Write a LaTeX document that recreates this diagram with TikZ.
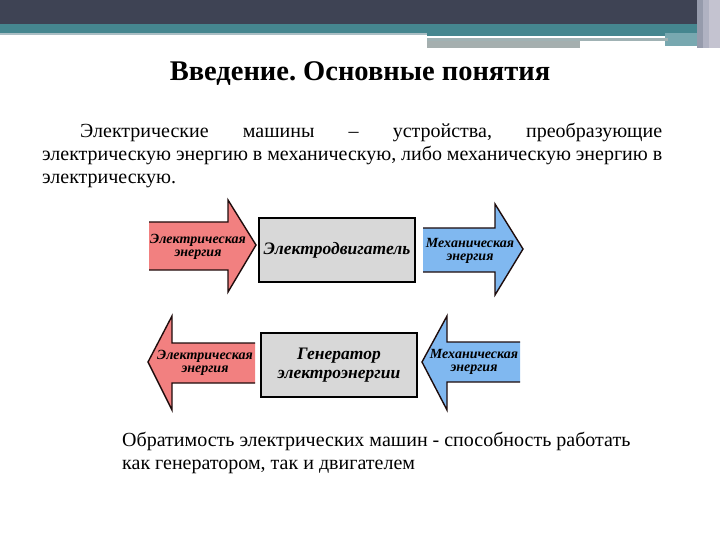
\documentclass[tikz,border=0pt]{standalone}
\usepackage{fontspec}
\setmainfont{Liberation Serif}
\frenchspacing
\definecolor{hdrdark}{RGB}{62,67,84}
\definecolor{hdrteal}{RGB}{69,134,143}
\definecolor{hdrlight}{RGB}{170,190,196}
\definecolor{hdrgray}{RGB}{160,178,180}
\definecolor{hdrgray2}{RGB}{165,175,175}
\definecolor{hdrlteal}{RGB}{120,168,176}
\definecolor{stripeA}{RGB}{150,155,172}
\definecolor{stripeB}{RGB}{176,178,194}
\definecolor{stripeC}{RGB}{196,195,208}
\definecolor{arrred}{RGB}{242,128,128}
\definecolor{arrblue}{RGB}{128,184,240}
\definecolor{boxgray}{RGB}{216,216,216}
\definecolor{outl}{RGB}{30,12,12}
\tikzset{
  arroutline/.style={draw=outl, line width=1.4pt, line join=miter},
  arrtext/.style={font=\bfseries\itshape\fontsize{14}{13}\selectfont, align=center, inner sep=0pt},
  machbox/.style={draw=black, fill=boxgray, line width=1.6pt, minimum width=156pt, minimum height=64pt, font=\bfseries\itshape\fontsize{17.5}{19}\selectfont, align=center},
  bodytext/.style={font=\fontsize{20}{23}\selectfont, inner sep=0pt, anchor=base west}
}
\begin{document}
\begin{tikzpicture}[x=1pt,y=-1pt]
\useasboundingbox (0,0) rectangle (720,540);
% header band
\fill[hdrdark] (0,0) rectangle (720,24);
\fill[hdrteal] (0,24) rectangle (700,33);
\fill[hdrlight] (0,33) rectangle (427,35);
\fill[hdrteal] (427,33) rectangle (700,36);
\fill[hdrlteal] (665,33) rectangle (697,46);
\fill[hdrgray] (427,38) rectangle (668,41);
\fill[hdrgray2] (427,41) rectangle (580,48);
\fill[stripeA] (697,0) rectangle (703,48);
\fill[stripeB] (703,0) rectangle (709,48);
\fill[stripeC] (709,0) rectangle (720,48);

% title
\node[font=\bfseries\fontsize{28.5}{30}\selectfont, anchor=base, inner sep=0pt] (title) at (360,81) {Введение. Основные понятия};

% paragraph
\node[bodytext] (p1) at (80,138) {\makebox[582pt][s]{Электрические машины – устройства, преобразующие}};
\node[bodytext] (p2) at (42,161) {\makebox[620pt][s]{электрическую энергию в механическую, либо механическую энергию в}};
\node[bodytext] (p3) at (42,184) {электрическую.};

% top row: motor
\fill[arrred] (149,222) -- (228,222) -- (228,200) -- (256,245) -- (228,292) -- (228,270) -- (149,270) -- cycle;
\draw[arroutline] (149,222) -- (228,222) -- (228,200) -- (256,245) -- (228,292) -- (228,270) -- (149,270);
\node[arrtext] (e1) at (198,247) {Электрическая\\энергия};

\node[machbox] (motor) at (337,250) {Электродвигатель};

\fill[arrblue] (423,228) -- (495,228) -- (495,204) -- (523,249) -- (495,295) -- (495,272) -- (423,272) -- cycle;
\draw[arroutline] (423,228) -- (495,228) -- (495,204) -- (523,249) -- (495,295) -- (495,272) -- (423,272);
\node[arrtext] (m1) at (470,251) {Механическая\\энергия};

% bottom row: generator
\fill[arrred] (255,343) -- (172,343) -- (172,316) -- (148,362) -- (172,410) -- (172,383) -- (255,383) -- cycle;
\draw[arroutline] (255,343) -- (172,343) -- (172,316) -- (148,362) -- (172,410) -- (172,383) -- (255,383);
\node[arrtext] (e2) at (205,363) {Электрическая\\энергия};

\node[machbox] (gen) at (339,365) {Генератор\\электроэнергии};

\fill[arrblue] (520,342) -- (447,342) -- (447,316) -- (422,362) -- (447,410) -- (447,382) -- (520,382) -- cycle;
\draw[arroutline] (520,342) -- (447,342) -- (447,316) -- (422,362) -- (447,410) -- (447,382) -- (520,382);
\node[arrtext] (m2) at (474,362) {Механическая\\энергия};

% bottom text
\node[bodytext] (r1) at (122,446) {Обратимость электрических машин - способность работать};
\node[bodytext] (r2) at (122,469) {как генератором, так и двигателем};
\end{tikzpicture}
\end{document}
